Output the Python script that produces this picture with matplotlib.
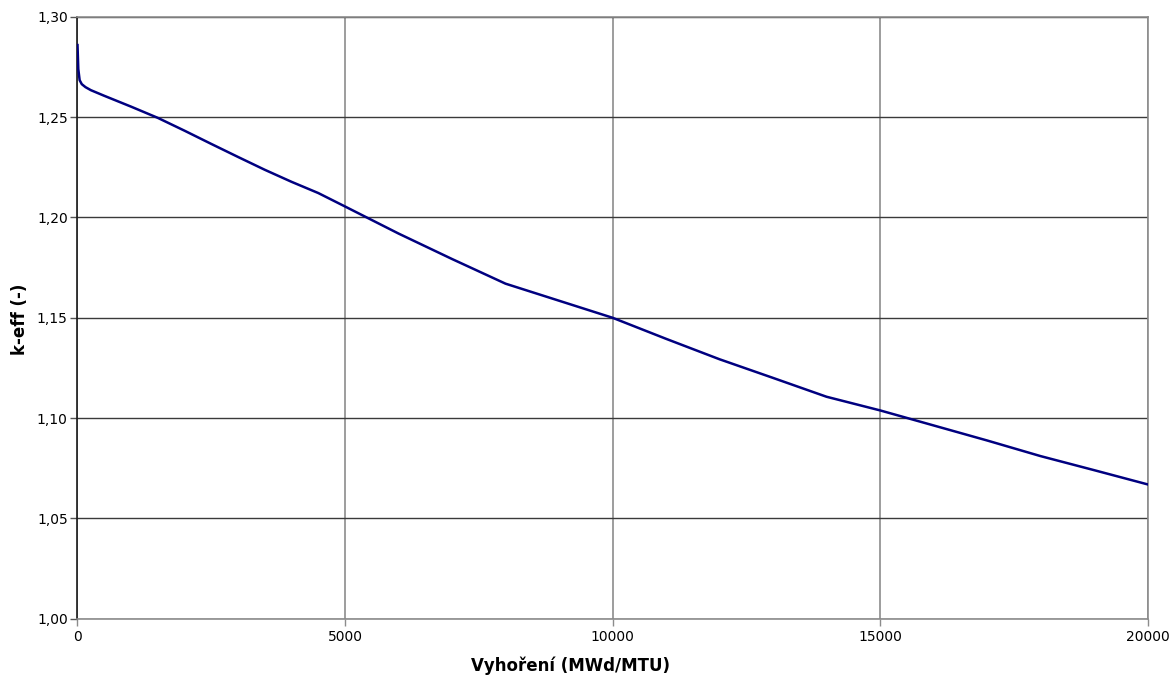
import matplotlib
matplotlib.use("Agg")
import matplotlib.pyplot as plt
from matplotlib.ticker import FuncFormatter

# burnup (MWd/MTU) and k-eff
burnup = [0, 15, 40, 80, 150, 250, 500, 1000, 1500, 2000, 2500, 3000, 3500,
          4000, 4500, 5000, 6000, 7000, 8000, 9000, 10000, 11000, 12000,
          13000, 14000, 15000, 16000, 17000, 18000, 19000, 20000]
keff = [1.2860, 1.2740, 1.2685, 1.2665, 1.2650, 1.2635, 1.2607, 1.2553,
        1.2497, 1.2433, 1.2367, 1.2302, 1.2238, 1.2178, 1.2122, 1.2055,
        1.1920, 1.1793, 1.1670, 1.1585, 1.1500, 1.1395, 1.1293, 1.1200,
        1.1106, 1.1038, 1.0963, 1.0888, 1.0810, 1.0740, 1.0669]

x_ticks = [0, 5000, 10000, 15000, 20000]
y_ticks = [1.00, 1.05, 1.10, 1.15, 1.20, 1.25, 1.30]

fig = plt.figure(figsize=(11.76, 6.77), dpi=100)
ax = fig.add_axes([0.0659, 0.0864, 0.9099, 0.8885])

ax.plot(burnup, keff, color="#000080", lw=1.8, zorder=3)

ax.set_xlim(0, 20000)
ax.set_ylim(1.0, 1.3)
ax.set_xticks(x_ticks)
ax.set_yticks(y_ticks)
ax.yaxis.set_major_formatter(FuncFormatter(lambda v, p: f"{v:.2f}".replace(".", ",")))

ax.grid(True, axis="y", color="#3a3a3a", lw=1.0)
ax.grid(True, axis="x", color="#8c8c8c", lw=1.2)
ax.set_axisbelow(True)

for s in ["top", "right", "bottom"]:
    ax.spines[s].set_color("#8c8c8c")
    ax.spines[s].set_linewidth(1.2)
ax.spines["left"].set_color("#1a1a1a")
ax.spines["left"].set_linewidth(1.2)

ax.tick_params(axis="y", length=5, width=1, color="#555555", labelsize=10, pad=2)
ax.tick_params(axis="x", length=5, width=1, color="#8c8c8c", labelsize=10, pad=3)

ax.set_xlabel("Vyhoření (MWd/MTU)", fontsize=12, fontweight="bold")
ax.set_ylabel("k-eff (-)", fontsize=12, fontweight="bold")
ax.xaxis.set_label_coords(0.461, -0.063)
ax.yaxis.set_label_coords(-0.045, 0.498)

fig.savefig("out.png", dpi=100)
